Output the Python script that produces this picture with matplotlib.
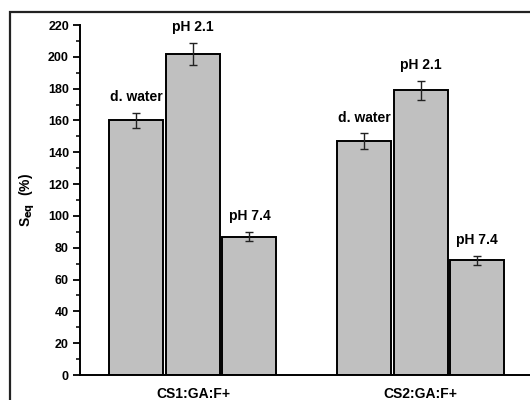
import numpy as np
import matplotlib
matplotlib.use('Agg')
import matplotlib.pyplot as plt
from matplotlib.patches import Rectangle

plt.rcParams['font.family'] = ['Liberation Sans', 'DejaVu Sans']
plt.rcParams['font.weight'] = 'bold'

groups = ['CS1:GA:F+', 'CS2:GA:F+']
media = ['d. water', 'pH 2.1', 'pH 7.4']
# rows: media, cols: groups
seq = [[160, 147], [202, 179], [87, 72]]
seq_err = [[5, 5], [7, 6], [3, 3]]

fig = plt.figure(figsize=(5.3, 4), dpi=100)
ax = fig.add_axes([80 / 530, 25 / 400, 1 - 80 / 530, 350 / 400])

x = np.arange(len(groups))
width = 0.237
step = 0.248
for i, name in enumerate(media):
    pos = x + (i - 1) * step
    ax.bar(pos, seq[i], width, color='#c0c0c0', edgecolor='black', linewidth=1.4, zorder=2)
    ax.errorbar(pos, seq[i], yerr=seq_err[i], fmt='none', ecolor='#222222',
                elinewidth=1, capsize=2.8, capthick=1, zorder=3)
    for p, v, e in zip(pos, seq[i], seq_err[i]):
        ax.annotate(name, (p, v + e), xytext=(0, 6), textcoords='offset points',
                    ha='center', va='bottom', fontsize=10, fontweight='bold')

ax.set_xlim(-0.496, 1.48)
ax.set_ylim(0, 220)
ax.set_yticks(np.arange(0, 221, 20))
ax.set_yticks(np.arange(10, 220, 20), minor=True)
ax.set_xticks(x)
ax.set_xticklabels(groups, fontsize=10, fontweight='bold')
ax.tick_params(axis='x', length=0, pad=9)
ax.tick_params(axis='y', which='major', length=5, width=1.3, labelsize=9, direction='out', pad=3)
ax.tick_params(axis='y', which='minor', length=3, width=1.1, direction='out')
for s in ['top', 'right']:
    ax.spines[s].set_visible(False)
for s in ['left', 'bottom']:
    ax.spines[s].set_linewidth(1.4)

ax.set_ylabel(r'S$_{\mathbf{eq}}$  (%)', fontsize=10, fontweight='bold', labelpad=8)

# outer frame, cropped on right and bottom like the reference
fig.patches.append(Rectangle((10 / 530, -0.1), 1.2, 1 - 12 / 400 + 0.1,
                             transform=fig.transFigure, fill=False,
                             edgecolor='#222222', linewidth=1.6))

fig.savefig('out.png', dpi=100)
